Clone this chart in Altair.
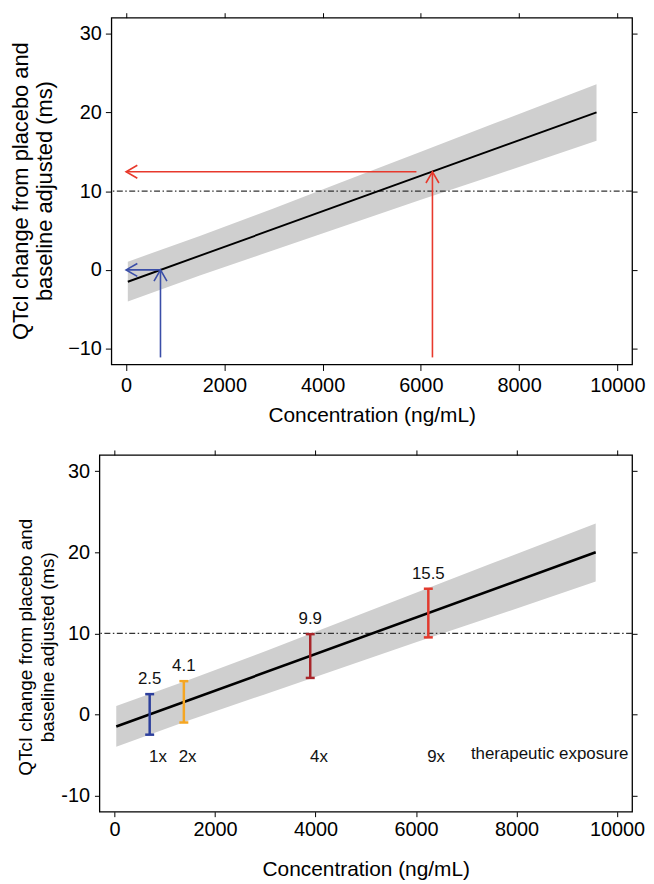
import altair as alt
import pandas as pd

# ---------------- data ----------------
line_conc = [35, 9576]
line_qtc = [-1.5, 20.0]

band_conc = [35, 1500, 3000, 4500, 6000, 7500, 9576]
band_lower = [-4.0, -0.7, 2.5, 5.7, 8.9, 12.0, 16.4]
band_upper = [1.05, 4.3, 7.8, 11.4, 15.0, 18.6, 23.55]

threshold = [10]

# top panel arrows (start -> end)
arrow_x1 = [700, 700, 6236, 5910]
arrow_y1 = [-11.1, 0.0, -11.1, 12.45]
arrow_x2 = [700, 0, 6236, 0]
arrow_y2 = [0.0, 0.0, 12.45, 12.45]
arrow_group = ["1x", "1x", "9x", "9x"]
arrow_dir = ["up", "left", "up", "left"]

# bottom panel error bars
bar_conc = [700, 1380, 3895, 6245]
bar_lower = [-2.5, -1.0, 4.5, 9.5]
bar_upper = [2.5, 4.1, 9.9, 15.5]
bar_group = ["1x", "2x", "4x", "9x"]

exposure_labels = ["1x", "2x", "4x", "9x", "therapeutic exposure"]
exposure_conc = [864, 1454, 4068, 6400, 8660]
exposure_qtc = [-5.2, -5.2, -5.2, -5.2, -4.9]

x_ticks = [0, 2000, 4000, 6000, 8000, 10000]
y_ticks = [-10, 0, 10, 20, 30]

# ---------------- styles ----------------
FONT = "Liberation Sans"
X_DOMAIN = [-300, 10300]
Y_DOMAIN = [-12, 32]
arrow_colors = alt.Scale(domain=["1x", "9x"], range=["#3a4ea8", "#e8392c"])
bar_colors = alt.Scale(domain=["1x", "2x", "4x", "9x"],
                       range=["#2c3f9c", "#f5a623", "#a8262a", "#e23a2e"])
UP = "M -0.577 1 L 0 0 L 0.577 1"
LEFT = "M 1 -0.577 L 0 0 L 1 0.577"

Y_TITLE = ["QTcI change from placebo and", "baseline adjusted (ms)"]
X_TITLE = "Concentration (ng/mL)"


def xscale():
    return alt.Scale(domain=X_DOMAIN, nice=False, zero=False)


def yscale():
    return alt.Scale(domain=Y_DOMAIN, nice=False, zero=False)


def base_axis(**kw):
    d = dict(domain=False, grid=False, tickColor="black", tickWidth=1,
             labelColor="black", titleColor="black", labelFont=FONT,
             titleFont=FONT, titleFontWeight="normal")
    d.update(kw)
    return alt.Axis(**d)


band_df = pd.DataFrame({"conc": band_conc, "lo": band_lower, "hi": band_upper})
line_df = pd.DataFrame({"conc": line_conc, "qtc": line_qtc})
thr_df = pd.DataFrame({"qtc": threshold})


def panel(lab_size, xt_size, yt_size, tick, lab_pad_x, lab_pad_y,
          tpad_x, tpad_y, line_w, minus_hyphen, title_y, title_lh):
    extra = {}
    if minus_hyphen:
        extra["labelExpr"] = "'' + datum.value"
    xa = base_axis(values=x_ticks, title=X_TITLE, tickSize=tick, format="d",
                   labelFontSize=lab_size, titleFontSize=xt_size,
                   labelPadding=lab_pad_x, titlePadding=tpad_x, orient="bottom")
    ya = base_axis(values=y_ticks, title=Y_TITLE, tickSize=tick,
                   labelFontSize=lab_size, titleFontSize=yt_size,
                   labelPadding=lab_pad_y, titlePadding=tpad_y, orient="left",
                   titleY=title_y, titleLineHeight=title_lh, **extra)
    xtop = base_axis(values=x_ticks, orient="top", labels=False, title=None, tickSize=5)
    yright = base_axis(values=y_ticks, orient="right", labels=False, title=None, tickSize=5)

    band = alt.Chart(band_df).mark_area(color="#cfcfcf", opacity=1).encode(
        x=alt.X("conc:Q", scale=xscale(), axis=xa),
        y=alt.Y("lo:Q", scale=yscale(), axis=ya),
        y2="hi:Q",
    )
    thr = alt.Chart(thr_df).mark_rule(color="#333333", strokeWidth=1.4,
                                      strokeDash=[6, 2.5, 1.5, 2.5]).encode(
        y=alt.Y("qtc:Q", scale=yscale(), axis=None)
    )
    line = alt.Chart(line_df).mark_line(color="black", strokeWidth=line_w).encode(
        x=alt.X("conc:Q", scale=xscale(), axis=xtop),
        y=alt.Y("qtc:Q", scale=yscale(), axis=yright),
    )
    return [band, thr, line]


# ---------------- top panel ----------------
arrows_df = pd.DataFrame({"x1": arrow_x1, "y1": arrow_y1, "x2": arrow_x2,
                          "y2": arrow_y2, "group": arrow_group, "dir": arrow_dir})

top_layers = panel(lab_size=20, xt_size=21, yt_size=22, tick=6,
                   lab_pad_x=5, lab_pad_y=4, tpad_x=9, tpad_y=11, line_w=1.9,
                   minus_hyphen=False, title_y=174, title_lh=24.5)
arrow_rules = alt.Chart(arrows_df).mark_rule(strokeWidth=1.6).encode(
    x=alt.X("x1:Q", scale=xscale(), axis=None),
    y=alt.Y("y1:Q", scale=yscale(), axis=None),
    x2="x2:Q", y2="y2:Q",
    color=alt.Color("group:N", scale=arrow_colors, legend=None),
)
arrow_heads = alt.Chart(arrows_df).mark_point(filled=False, size=511, strokeWidth=1.6,
                                              opacity=1).encode(
    x=alt.X("x2:Q", scale=xscale(), axis=None),
    y=alt.Y("y2:Q", scale=yscale(), axis=None),
    shape=alt.Shape("dir:N", scale=alt.Scale(domain=["up", "left"], range=[UP, LEFT]),
                    legend=None),
    color=alt.Color("group:N", scale=arrow_colors, legend=None),
)
top = alt.layer(*top_layers, arrow_rules, arrow_heads).resolve_axis(
    x="independent", y="independent").properties(width=524, height=349)

# invisible spacer that shifts the top plot right of the bottom plot
spacer = alt.Chart(pd.DataFrame({"v": [0]})).mark_point(opacity=0).encode(
    x=alt.X("v:Q", axis=None), y=alt.Y("v:Q", axis=None)
).properties(width=12, height=1, view=alt.ViewBackground(stroke="transparent"))

top_row = alt.hconcat(spacer, top, spacing=0, bounds="flush")

# ---------------- bottom panel ----------------
bars_df = pd.DataFrame({"conc": bar_conc, "lo": bar_lower, "hi": bar_upper,
                        "group": bar_group})
expo_df = pd.DataFrame({"conc": exposure_conc, "qtc": exposure_qtc,
                        "label": exposure_labels})

bot_layers = panel(lab_size=20, xt_size=21, yt_size=19, tick=5,
                   lab_pad_x=3, lab_pad_y=5, tpad_x=19, tpad_y=3, line_w=2.6,
                   minus_hyphen=True, title_y=193, title_lh=22)
bar_rules = alt.Chart(bars_df).mark_rule(strokeWidth=2.5).encode(
    x=alt.X("conc:Q", scale=xscale(), axis=None),
    y=alt.Y("lo:Q", scale=yscale(), axis=None),
    y2="hi:Q",
    color=alt.Color("group:N", scale=bar_colors, legend=None),
)
cap_lo = alt.Chart(bars_df).mark_tick(orient="horizontal", size=9, thickness=2.5,
                                      opacity=1).encode(
    x=alt.X("conc:Q", scale=xscale(), axis=None),
    y=alt.Y("lo:Q", scale=yscale(), axis=None),
    color=alt.Color("group:N", scale=bar_colors, legend=None),
)
cap_hi = alt.Chart(bars_df).mark_tick(orient="horizontal", size=9, thickness=2.5,
                                      opacity=1).encode(
    x=alt.X("conc:Q", scale=xscale(), axis=None),
    y=alt.Y("hi:Q", scale=yscale(), axis=None),
    color=alt.Color("group:N", scale=bar_colors, legend=None),
)
value_labels = alt.Chart(bars_df).mark_text(font=FONT, fontSize=17, color="#111111",
                                            baseline="alphabetic", dy=-10).encode(
    x=alt.X("conc:Q", scale=xscale(), axis=None),
    y=alt.Y("hi:Q", scale=yscale(), axis=None),
    text=alt.Text("hi:Q", format=".1f"),
)
expo_text = alt.Chart(expo_df).mark_text(font=FONT, fontSize=17, color="#111111",
                                         baseline="middle").encode(
    x=alt.X("conc:Q", scale=xscale(), axis=None),
    y=alt.Y("qtc:Q", scale=yscale(), axis=None),
    text="label:N",
)
bottom = alt.layer(*bot_layers, bar_rules, cap_lo, cap_hi, value_labels,
                   expo_text).resolve_axis(
    x="independent", y="independent").properties(width=536, height=359)

chart = alt.vconcat(top_row, bottom, spacing=22).resolve_scale(
    color="independent", shape="independent"
).properties(
    padding={"left": 0, "top": 0, "right": 0, "bottom": 0},
).configure_view(stroke="black", strokeWidth=1.3)

chart.save("out.html", embed_options={"renderer": "svg", "actions": False})
